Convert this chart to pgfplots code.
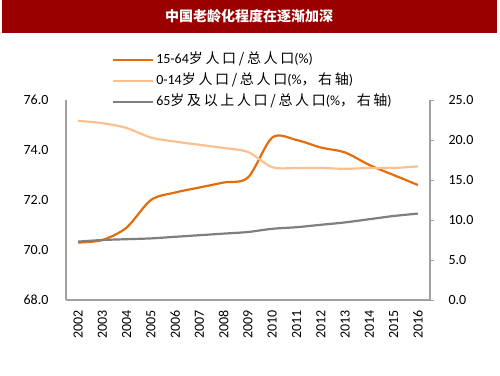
\documentclass[border=0pt]{standalone}
\usepackage{pgfplots}
\pgfplotsset{compat=1.18}
\usepackage{fontspec}
\setmainfont{Carlito}
\newfontfamily\cjk{Noto Sans CJK SC}
\newfontfamily\cjkl[LetterSpace=19]{Noto Sans CJK SC}
\definecolor{darkor}{HTML}{E46C0A}
\definecolor{lightor}{HTML}{FAC090}
\definecolor{grayl}{HTML}{7F7F7F}
\definecolor{axisg}{HTML}{A0A0A0}
\definecolor{titlered}{HTML}{9B0000}
\begin{document}
\begin{tikzpicture}
\path[use as bounding box] (0pt,0pt) rectangle (500pt,375pt);
\fill[titlered] (2pt,342pt) rectangle (497pt,375pt);
\node[text=white] at (249pt,359pt) {\cjk\bfseries\fontsize{14}{16}\selectfont 中国老龄化程度在逐渐加深};
\pgfplotsset{
  every axis/.append style={
    scale only axis, width=364pt, height=200pt,
    at={(66pt,75pt)}, anchor=south west,
    xmin=2001.5, xmax=2016.5,
    /pgf/number format/assume math mode=true,
    /pgf/number format/1000 sep={},
    tick label style={font=\fontsize{14}{16}\selectfont},
    axis line style={draw=axisg, line width=1.2pt, -},
  }
}
\begin{axis}[
  axis x line*=bottom, axis y line*=left,
  ymin=68, ymax=76, ytick={68,70,72,74,76},
  yticklabel style={/pgf/number format/fixed, /pgf/number format/precision=1, /pgf/number format/fixed zerofill, xshift=-14pt},
  xtick={2002,...,2016},
  xticklabel style={yshift=-7pt, xshift=0pt, rotate=90, anchor=east},
  xtick style={draw=none}, ytick style={draw=none},
  legend style={at={(axis description cs:0.126,1.245)}, anchor=north west, draw=none, fill=none, inner sep=0pt, row sep=4pt,
    nodes={text height=10pt, text depth=3pt, inner sep=2pt, font=\fontsize{14}{16}\selectfont}},
  legend cell align=left,
  legend image code/.code={\draw[#1] (0pt,0pt) -- (40pt,0pt);},
]
\addplot[darkor, line width=2.2pt, smooth] coordinates {
(2002,70.3) (2003,70.4) (2004,70.9) (2005,72.0) (2006,72.3) (2007,72.5) (2008,72.7) (2009,72.9)
(2010,74.5) (2011,74.4) (2012,74.1) (2013,73.9) (2014,73.4) (2015,73.0) (2016,72.6)};
\addlegendentry{15-64{\cjkl 岁人口/总人口}(\%)}
\addlegendimage{lightor, line width=2.2pt}
\addlegendentry{0-14{\cjkl 岁人口/总人口}(\%{\cjkl ，右轴})}
\addlegendimage{grayl, line width=2.2pt}
\addlegendentry{65{\cjkl 岁及以上人口/总人口}(\%{\cjkl ，右轴})}
\end{axis}
\begin{axis}[
  axis y line*=right, axis x line=none,
  ymin=0, ymax=25, ytick={0,5,...,25},
  yticklabel style={/pgf/number format/fixed, /pgf/number format/precision=1, /pgf/number format/fixed zerofill, xshift=11pt},
  tick align=outside, major tick length=4pt,
  ytick style={draw=axisg, line width=1pt},
]
\addplot[lightor, line width=2.2pt, smooth] coordinates {
(2002,22.4) (2003,22.1) (2004,21.5) (2005,20.3) (2006,19.8) (2007,19.4) (2008,19.0) (2009,18.5)
(2010,16.6) (2011,16.5) (2012,16.5) (2013,16.4) (2014,16.5) (2015,16.5) (2016,16.7)};
\addplot[grayl, line width=2.2pt, smooth] coordinates {
(2002,7.3) (2003,7.5) (2004,7.6) (2005,7.7) (2006,7.9) (2007,8.1) (2008,8.3) (2009,8.5)
(2010,8.9) (2011,9.1) (2012,9.4) (2013,9.7) (2014,10.1) (2015,10.5) (2016,10.8)};
\end{axis}
\end{tikzpicture}
\end{document}
